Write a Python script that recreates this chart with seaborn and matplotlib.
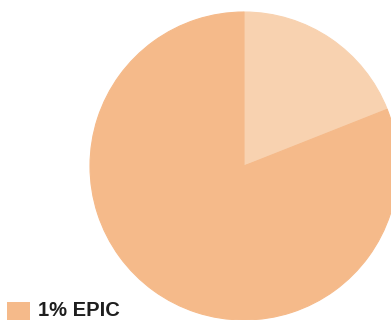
import matplotlib
matplotlib.use("Agg")
import matplotlib.pyplot as plt
from matplotlib.patches import Rectangle
import seaborn as sns

# Pie shares (percent), clockwise from 12 o'clock
segments = ["Light share", "EPIC", "Main share"]
shares = [19, 1, 80]
colors = ["#F8D2B0", "#F5BA8A", "#F5BA8A"]

legend_labels = ["1% EPIC"]
legend_colors = ["#F5BA8A"]

sns.set_theme(style="white")
plt.rcParams["font.family"] = ["Liberation Sans", "DejaVu Sans"]

W, H = 391, 320
fig = plt.figure(figsize=(W / 100, H / 100), dpi=100)
fig.patch.set_facecolor("white")

# Large pie, partly running off the right and bottom edges
ax = fig.add_axes([90 / W, 0.0, 308 / W, 308 / H])
wedges, _ = ax.pie(shares, colors=colors, startangle=90, counterclock=False,
                   radius=1.0)
for w, c in zip(wedges, colors):
    w.set_edgecolor(c)
    w.set_linewidth(0.8)
ax.set_xlim(-1, 1)
ax.set_ylim(-1, 1)
ax.set_aspect("equal")
ax.axis("off")

# Legend entry at the lower left
for i, (lab, col) in enumerate(zip(legend_labels, legend_colors)):
    top = 302 + i * 26
    fig.patches.append(Rectangle((7 / W, 1 - (top + 22) / H), 23 / W, 22 / H,
                                 transform=fig.transFigure, facecolor=col,
                                 edgecolor="none"))
    fig.text(38 / W, 1 - 315.5 / H, lab, ha="left", va="baseline",
             fontsize=14.5, fontweight="bold", color="#1e1e1e")

fig.savefig("out.png", dpi=100, facecolor="white")
